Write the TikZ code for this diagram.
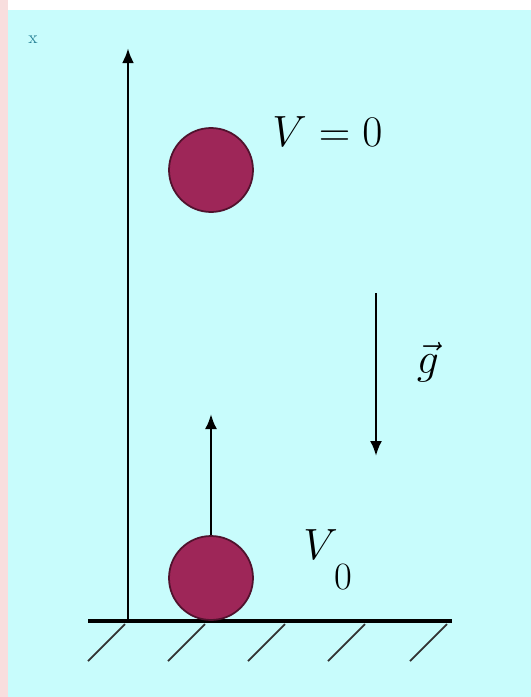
\documentclass[tikz,border=0pt]{standalone}
\usepackage{xcolor}
\usepackage{tikz}
\usetikzlibrary{arrows.meta}
\definecolor{skycyan}{RGB}{200,252,252}
\definecolor{ballred}{RGB}{158,38,88}
\definecolor{balledge}{RGB}{80,18,45}
\definecolor{framepink}{RGB}{248,222,222}
\definecolor{tinyteal}{RGB}{40,130,150}

\begin{document}
\begin{tikzpicture}[x=0.02cm, y=-0.02cm,
    ball/.style={circle, fill=ballred, draw=balledge, line width=1pt, minimum size=1.68cm, inner sep=0pt},
    vec/.style={line width=1.4pt, -{Latex[length=0.3cm,width=0.24cm]}},
    hatch/.style={line width=1pt, black!80},
    lbl/.style={font=\fontsize{29}{32}\selectfont, inner sep=0pt}]
              \useasboundingbox (0,0) rectangle (531,697);
              \fill[framepink] (0,0) rectangle (531,697);
              \fill[white] (8,0) rectangle (531,10);
              \fill[skycyan] (8,10) rectangle (531,697);
              \node[tinyteal, font=\fontsize{10}{12}\selectfont] (xmark) at (33,40) {x};
              % axis and ground
              \coordinate (origin) at (128,621);
              \coordinate (axistop) at (128,48);
              \coordinate (groundL) at (88,621);
              \coordinate (groundR) at (452,621);
              \draw[vec, line width=1.7pt] (origin) -- (axistop);
              \draw[line width=2.8pt] (groundL) -- (groundR);
              \foreach \hx in {88,168,248,328,410}
                  \draw[hatch] (\hx,661) -- ++(37,-37);
              % balls
              \node[ball] (top) at (211,170) {};
              \node[ball] (bottom) at (211,578) {};
              \coordinate (vtip) at (211,414);
              \draw[vec] (bottom.north) -- (vtip);
              \node[lbl, anchor=west] (vzero) at (272,132) {$V=0$};
              \node[lbl, anchor=west] (vnought) at (303,560) {$V_{\raisebox{-1.1ex}{\fontsize{22}{24}\selectfont\,0}}$};
              % gravity
              \coordinate (gstart) at (376,293);
              \coordinate (gend) at (376,456);
              \draw[vec] (gstart) -- (gend);
              \node[lbl, font=\fontsize{36}{40}\selectfont] (gvec) at (428,362) {$\vec{g}$};
          \end{tikzpicture}
\end{document}
